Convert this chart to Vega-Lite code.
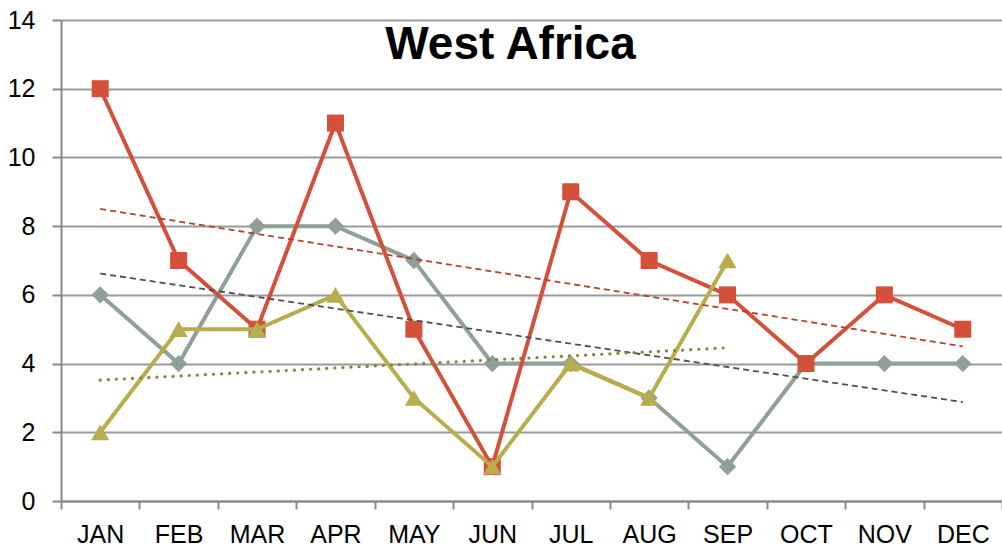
{
  "$schema": "https://vega.github.io/schema/vega-lite/v6.json",
  "width": 941,
  "height": 481,
  "autosize": {"type": "none"},
  "padding": {"left": 61, "top": 20, "right": 0, "bottom": 50},
  "background": "white",
  "config": {"view": {"stroke": null}, "font": "Liberation Sans"},
  "title": {"text": "West Africa", "font": "Liberation Sans", "fontSize": 46, "fontWeight": "bold", "color": "#000000", "anchor": "middle", "baseline": "alphabetic", "offset": 0, "dy": 97, "dx": -21},
  "datasets": {
    "obs": [
      {"month": "JAN", "series": "red", "value": 12},
      {"month": "FEB", "series": "red", "value": 7},
      {"month": "MAR", "series": "red", "value": 5},
      {"month": "APR", "series": "red", "value": 11},
      {"month": "MAY", "series": "red", "value": 5},
      {"month": "JUN", "series": "red", "value": 1},
      {"month": "JUL", "series": "red", "value": 9},
      {"month": "AUG", "series": "red", "value": 7},
      {"month": "SEP", "series": "red", "value": 6},
      {"month": "OCT", "series": "red", "value": 4},
      {"month": "NOV", "series": "red", "value": 6},
      {"month": "DEC", "series": "red", "value": 5},
      {"month": "JAN", "series": "gray", "value": 6},
      {"month": "FEB", "series": "gray", "value": 4},
      {"month": "MAR", "series": "gray", "value": 8},
      {"month": "APR", "series": "gray", "value": 8},
      {"month": "MAY", "series": "gray", "value": 7},
      {"month": "JUN", "series": "gray", "value": 4},
      {"month": "JUL", "series": "gray", "value": 4},
      {"month": "AUG", "series": "gray", "value": 3},
      {"month": "SEP", "series": "gray", "value": 1},
      {"month": "OCT", "series": "gray", "value": 4},
      {"month": "NOV", "series": "gray", "value": 4},
      {"month": "DEC", "series": "gray", "value": 4},
      {"month": "JAN", "series": "olive", "value": 2},
      {"month": "FEB", "series": "olive", "value": 5},
      {"month": "MAR", "series": "olive", "value": 5},
      {"month": "APR", "series": "olive", "value": 6},
      {"month": "MAY", "series": "olive", "value": 3},
      {"month": "JUN", "series": "olive", "value": 1},
      {"month": "JUL", "series": "olive", "value": 4},
      {"month": "AUG", "series": "olive", "value": 3},
      {"month": "SEP", "series": "olive", "value": 7}
    ],
    "trend": [
      {"month": "JAN", "series": "red", "value": 8.5},
      {"month": "DEC", "series": "red", "value": 4.5},
      {"month": "JAN", "series": "gray", "value": 6.62},
      {"month": "DEC", "series": "gray", "value": 2.88},
      {"month": "JAN", "series": "olive", "value": 3.52},
      {"month": "SEP", "series": "olive", "value": 4.46}
    ]
  },
  "encoding": {
    "x": {
      "field": "month", "type": "nominal",
      "sort": ["JAN", "FEB", "MAR", "APR", "MAY", "JUN", "JUL", "AUG", "SEP", "OCT", "NOV", "DEC"],
      "scale": {"type": "band", "domain": ["JAN", "FEB", "MAR", "APR", "MAY", "JUN", "JUL", "AUG", "SEP", "OCT", "NOV", "DEC"], "paddingInner": 0, "paddingOuter": 0},
      "bandPosition": 0.5,
      "axis": {"title": null, "labelAngle": 0, "labelFont": "Liberation Sans", "labelFontSize": 25, "labelColor": "#000000", "labelPadding": 13, "tickBand": "extent", "tickColor": "#888888", "tickWidth": 2, "tickSize": 8, "domainColor": "#888888", "domainWidth": 2, "grid": false}
    },
    "y": {
      "field": "value", "type": "quantitative",
      "scale": {"domain": [0, 14], "nice": false, "zero": true},
      "axis": {"title": null, "values": [0, 2, 4, 6, 8, 10, 12, 14], "labelFont": "Liberation Sans", "labelFontSize": 25, "labelColor": "#000000", "labelPadding": 17, "tickColor": "#888888", "tickWidth": 2, "tickSize": 9, "domainColor": "#888888", "domainWidth": 2, "grid": true, "gridColor": "#9a9a9a", "gridWidth": 2}
    }
  },
  "layer": [
    {"data": {"name": "obs"}, "transform": [{"filter": "datum.series === 'gray'"}], "mark": {"type": "line", "color": "#8fa097", "strokeWidth": 4}},
    {"data": {"name": "obs"}, "transform": [{"filter": "datum.series === 'gray'"}], "mark": {"type": "point", "shape": "diamond", "filled": true, "opacity": 1, "color": "#8fa097", "size": 300}},
    {"data": {"name": "obs"}, "transform": [{"filter": "datum.series === 'red'"}], "mark": {"type": "line", "color": "#d4503a", "strokeWidth": 4}},
    {"data": {"name": "obs"}, "transform": [{"filter": "datum.series === 'red'"}], "mark": {"type": "point", "shape": "square", "filled": true, "opacity": 1, "color": "#d4503a", "size": 290}},
    {"data": {"name": "obs"}, "transform": [{"filter": "datum.series === 'olive'"}], "mark": {"type": "line", "color": "#b8ad4c", "strokeWidth": 4}},
    {"data": {"name": "obs"}, "transform": [{"filter": "datum.series === 'olive'"}], "mark": {"type": "point", "shape": "triangle-up", "filled": true, "opacity": 1, "color": "#b8ad4c", "size": 330}},
    {"data": {"name": "trend"}, "transform": [{"filter": "datum.series === 'red'"}], "mark": {"type": "line", "color": "#b5412f", "strokeWidth": 1.8, "strokeDash": [6, 4]}},
    {"data": {"name": "trend"}, "transform": [{"filter": "datum.series === 'gray'"}], "mark": {"type": "line", "color": "#4a524e", "strokeWidth": 1.8, "strokeDash": [6, 4]}},
    {"data": {"name": "trend"}, "transform": [{"filter": "datum.series === 'olive'"}], "mark": {"type": "line", "color": "#8c8233", "strokeWidth": 3.2, "strokeDash": [0.1, 8], "strokeCap": "round"}}
  ]
}
